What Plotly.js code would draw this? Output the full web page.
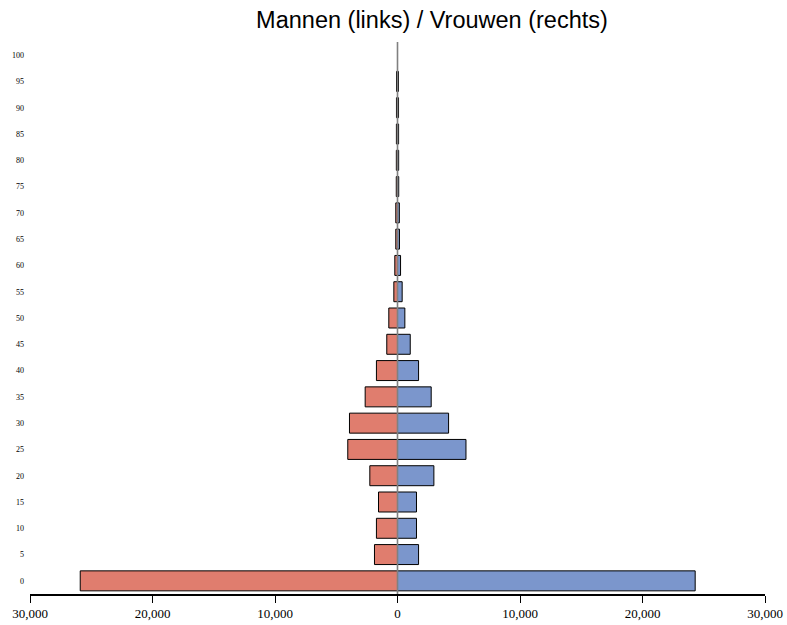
<!DOCTYPE html>
<html>
<head>
<meta charset="utf-8">
<script src="https://cdn.plot.ly/plotly-3.0.1.min.js"></script>
<style>html,body{margin:0;padding:0;background:#fff;}#chart{width:787px;height:625px;}</style>
</head>
<body>
<div id="chart"></div>
<script>
var ageGroups = ['0','5','10','15','20','25','30','35','40','45','50','55','60','65','70','75','80','85','90','95','100'];
var men   = [25900, 1880, 1720, 1550, 2260, 4060, 3920, 2640, 1720, 875, 710, 300, 220, 140, 140, 100, 95, 90, 85, 80, 0];
var women = [24300, 1720, 1550, 1550, 2970, 5590, 4170, 2750, 1720, 1040, 600, 380, 250, 160, 150, 100, 95, 90, 85, 80, 0];
var xTickVals = [-30000, -20000, -10000, 0, 10000, 20000, 30000];
var xTickText = ['30,000', '20,000', '10,000', '0', '10,000', '20,000', '30,000'];

var traces = [
  {
    type: 'bar', orientation: 'h', name: 'Mannen',
    y: ageGroups, x: men.map(function(v){ return -v; }),
    marker: {color: '#E07D6E', line: {color: '#000000', width: 1}},
    hoverinfo: 'skip'
  },
  {
    type: 'bar', orientation: 'h', name: 'Vrouwen',
    y: ageGroups, x: women,
    marker: {color: '#7B96CC', line: {color: '#000000', width: 1}},
    hoverinfo: 'skip'
  }
];

var layout = {
  width: 787, height: 625,
  margin: {l: 30, r: 22, t: 42, b: 31, pad: 0},
  paper_bgcolor: '#ffffff', plot_bgcolor: '#ffffff',
  showlegend: false,
  barmode: 'relative',
  bargap: 0.24,
  title: {
    text: 'Mannen (links) / Vrouwen (rechts)',
    font: {family: 'Liberation Sans, Arial, sans-serif', size: 23.5, color: '#000000'},
    x: 432/787, xanchor: 'center', xref: 'container',
    y: 1 - 28/625, yanchor: 'bottom', yref: 'container'
  },
  xaxis: {
    range: [-30000, 30000],
    tickvals: xTickVals, ticktext: xTickText,
    showgrid: false, zeroline: false,
    showline: true, linecolor: '#000000', linewidth: 1.5,
    ticks: 'outside', ticklen: 7, tickcolor: '#000000', tickwidth: 1,
    tickfont: {family: 'Liberation Serif, Times New Roman, serif', size: 13, color: '#000000'},
    fixedrange: true
  },
  yaxis: {
    type: 'category',
    range: [-0.5, 20.5],
    showgrid: false, zeroline: false, showline: false,
    ticks: '', ticklabelstandoff: 5,
    tickfont: {family: 'Liberation Serif, Times New Roman, serif', size: 8, color: '#000000'},
    fixedrange: true
  },
  shapes: [
    {type: 'line', xref: 'x', yref: 'paper', x0: 0, x1: 0, y0: 0, y1: 1,
     line: {color: '#808080', width: 1.6}, layer: 'above'}
  ]
};

Plotly.newPlot('chart', traces, layout, {displayModeBar: false, staticPlot: true});
</script>
</body>
</html>
